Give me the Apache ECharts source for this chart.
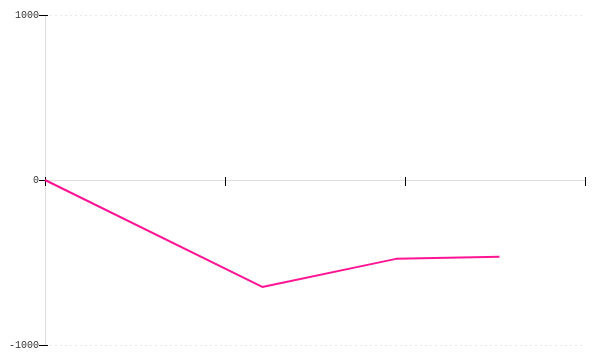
<!DOCTYPE html>
<html>
<head>
<meta charset="utf-8">
<script src="https://cdn.jsdelivr.net/npm/echarts@6/dist/echarts.min.js"></script>
<style>html,body{margin:0;padding:0;background:#fff}#c{width:600px;height:360px}</style>
</head>
<body>
<div id="c"></div>
<script>
var xValues = [0, 1.207, 1.95, 2.525];
var yValues = [0, -648, -478, -465];
var xTicks = { min: 0, max: 3, interval: 1 };
var yTicks = { min: -1000, max: 1000, interval: 1000 };

var points = xValues.map(function (x, i) { return [x, yValues[i]]; });
var labelFont = { fontFamily: 'Liberation Mono', fontSize: 10, color: '#333' };

var chart = echarts.init(document.getElementById('c'), null, { renderer: 'canvas' });
chart.setOption({
  animation: false,
  grid: { left: 45, right: 15, top: 15, bottom: 15 },
  xAxis: [
    {
      type: 'value', min: xTicks.min, max: xTicks.max, interval: xTicks.interval,
      axisLine: { onZero: true, onZeroAxisIndex: 0, lineStyle: { color: '#ddd', width: 1 } },
      axisTick: { show: true, length: 6, lineStyle: { color: '#000', width: 1 } },
      axisLabel: { show: false },
      splitLine: { show: false }
    },
    {
      type: 'value', min: xTicks.min, max: xTicks.max, interval: xTicks.interval, position: 'bottom',
      axisLine: { show: false, onZero: true, onZeroAxisIndex: 0 },
      axisTick: { show: true, inside: true, length: 3, lineStyle: { color: '#000', width: 1 } },
      axisLabel: { show: false },
      splitLine: { show: false }
    }
  ],
  yAxis: [
    {
      type: 'value', min: yTicks.min, max: yTicks.max, interval: yTicks.interval,
      axisLine: { show: true, onZero: false, lineStyle: { color: '#ddd', width: 1 } },
      axisTick: { show: true, length: 6, lineStyle: { color: '#000', width: 1 } },
      axisLabel: Object.assign({ margin: 6, formatter: function (v) { return String(v); } }, labelFont),
      splitLine: { show: true, lineStyle: { color: '#e8e8e8', type: [2, 3], width: 1 } }
    },
    {
      type: 'value', min: yTicks.min, max: yTicks.max, interval: yTicks.interval, position: 'left',
      axisLine: { show: false, onZero: false },
      axisTick: { show: true, inside: true, length: 3, lineStyle: { color: '#000', width: 1 } },
      axisLabel: { show: false },
      splitLine: { show: false }
    }
  ],
  series: [{
    type: 'line',
    xAxisIndex: 0, yAxisIndex: 0,
    data: points,
    showSymbol: false,
    symbol: 'none',
    lineStyle: { color: '#ff1493', width: 2 }
  }]
});
</script>
</body>
</html>
